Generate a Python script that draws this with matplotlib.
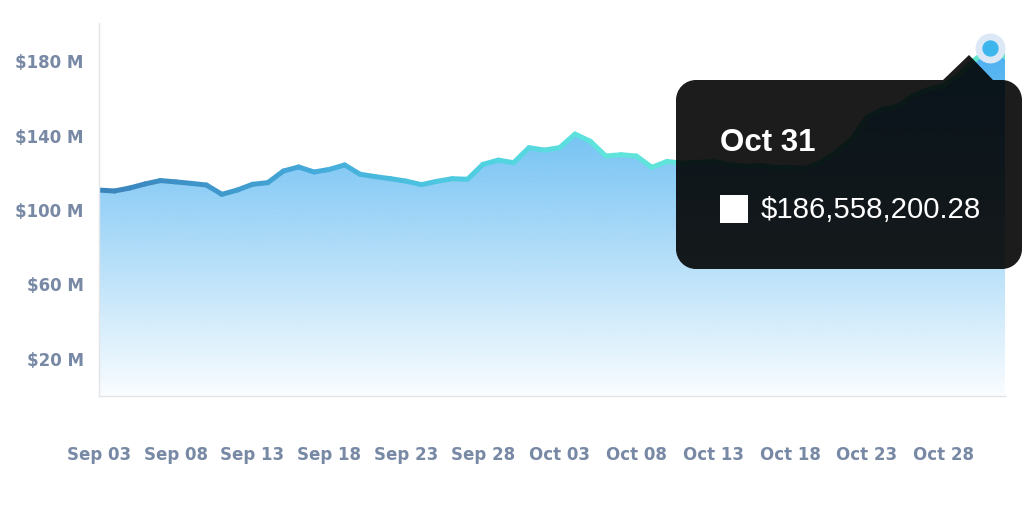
import matplotlib
matplotlib.use("Agg")
import matplotlib.pyplot as plt
import matplotlib.dates as mdates
from matplotlib.collections import LineCollection
from matplotlib.colors import LinearSegmentedColormap, to_rgb
from matplotlib.path import Path
from matplotlib.patches import PathPatch, Rectangle
import numpy as np
import pandas as pd

# daily values, millions of dollars (Sep 03 .. Nov 01)
start_date = "2024-09-03"
values = [
    110.2, 109.7, 111.3, 113.5, 115.3, 114.6, 113.8, 112.9, 107.9, 110.2,
    113.3, 114.2, 120.4, 122.6, 119.9, 121.3, 123.7, 118.7, 117.4, 116.3,
    115.0, 113.1, 114.9, 116.3, 116.0, 124.0, 126.3, 124.9, 133.0, 131.7,
    133.0, 140.3, 136.4, 128.5, 129.2, 128.5, 122.4, 125.6, 124.6, 125.1,
    125.6, 124.0, 123.0, 123.5, 122.4, 122.4, 121.9, 125.1, 130.5, 137.4,
    149.3, 153.6, 155.2, 161.0, 164.3, 166.4, 172.0, 180.0, 186.55820028, 182.0,
]
y_ticks = [20, 60, 100, 140, 180]
hover_index = 58  # Oct 31

dates = pd.date_range(start_date, periods=len(values), freq="D")
x = mdates.date2num(dates)
y = np.array(values)

W, H = 1024, 510
fig = plt.figure(figsize=(W / 100, H / 100), dpi=100)
ax = fig.add_axes([99 / W, 1 - 397 / H, (1005 - 99) / W, (397 - 24) / H])
ax.set_xlim(x[0], x[-1])
ax.set_ylim(-0.5, 200)

# gradient fill under the curve
fill_rgb = to_rgb("#3aa9ef")
grad = np.zeros((256, 1, 4))
grad[:, 0, :3] = fill_rgb
grad[:, 0, 3] = np.linspace(0.92, 0.03, 256)
poly = ax.fill_between(x, y, 0, color="none", lw=0)
img = ax.imshow(grad, aspect="auto", extent=[x[0], x[-1], 0, y.max()],
                origin="upper", zorder=1)
img.set_clip_path(poly.get_paths()[0], transform=ax.transData)

# line with colour changing along x
line_cmap = LinearSegmentedColormap.from_list(
    "line", [(0.0, "#3a84bc"), (0.25, "#45addb"), (0.42, "#50d0e2"),
             (0.55, "#5fe3dc"), (1.0, "#62e6cc")])
pts = np.column_stack([x, y]).reshape(-1, 1, 2)
segs = np.concatenate([pts[:-1], pts[1:]], axis=1)
lc = LineCollection(segs, colors=line_cmap(np.linspace(0, 1, len(segs))),
                    linewidths=3.6, capstyle="round", joinstyle="round", zorder=3)
ax.add_collection(lc)

# axes styling
for s in ["top", "right"]:
    ax.spines[s].set_visible(False)
for s in ["left", "bottom"]:
    ax.spines[s].set_color("#e2e4e8")
    ax.spines[s].set_linewidth(1)
ax.spines["left"].set_zorder(5)

label_color = "#7889a5"
ax.set_yticks(y_ticks)
ax.set_yticklabels([f"${v} M" for v in y_ticks])
ax.set_xticks(x[::5])
ax.set_xticklabels([d.strftime("%b %d") for d in dates[::5]])
ax.tick_params(axis="both", length=0, colors=label_color)
ax.tick_params(axis="y", pad=11)
ax.tick_params(axis="x", pad=35)
for t in ax.get_xticklabels() + ax.get_yticklabels():
    t.set_fontfamily("DejaVu Sans")
    t.set_fontweight("bold")
    t.set_fontsize(12)

# tooltip (pixel layout, y measured from top)
def fx(px):
    return px / W

def fy(py):
    return 1 - py / H

L, R, T, B, r = 676, 1022, 81, 270, 20
k = 0.5523 * r
verts = [
    (L + r, T), (943, T), (969, 56), (993, T), (R - r, T),
    (R - r + k, T), (R, T + r - k), (R, T + r),
    (R, B - r),
    (R, B - r + k), (R - r + k, B), (R - r, B),
    (L + r, B),
    (L + r - k, B), (L, B - r + k), (L, B - r),
    (L, T + r),
    (L, T + r - k), (L + r - k, T), (L + r, T),
    (L + r, T),
]
codes = ([Path.MOVETO] + [Path.LINETO] * 4 + [Path.CURVE4] * 3 + [Path.LINETO]
         + [Path.CURVE4] * 3 + [Path.LINETO] + [Path.CURVE4] * 3 + [Path.LINETO]
         + [Path.CURVE4] * 3 + [Path.CLOSEPOLY])
tip_path = Path([(fx(a), fy(b)) for a, b in verts], codes)
fig.patches.append(PathPatch(tip_path, transform=fig.transFigure, facecolor="black",
                             edgecolor="none", alpha=0.89, zorder=10))
fig.patches.append(Rectangle((fx(720), fy(224)), 28 / W, 28 / H, transform=fig.transFigure,
                             facecolor="white", edgecolor="none", zorder=11))
fig.text(fx(720), fy(143), dates[hover_index].strftime("%b %d"), color="white",
         fontsize=22.5, fontweight="bold", family="Liberation Sans", va="center", zorder=12)
fig.text(fx(761), fy(210), f"${values[hover_index] * 1e6:,.2f}", color="white",
         fontsize=21.2, family="Liberation Sans", va="center", zorder=12)

# hovered point marker
ax.scatter([x[hover_index]], [y[hover_index]], s=420, color="#dce8f6", zorder=20, clip_on=False)
ax.scatter([x[hover_index]], [y[hover_index]], s=115, color="#3db6ee", zorder=21, clip_on=False)

fig.savefig("out.png", dpi=100)
